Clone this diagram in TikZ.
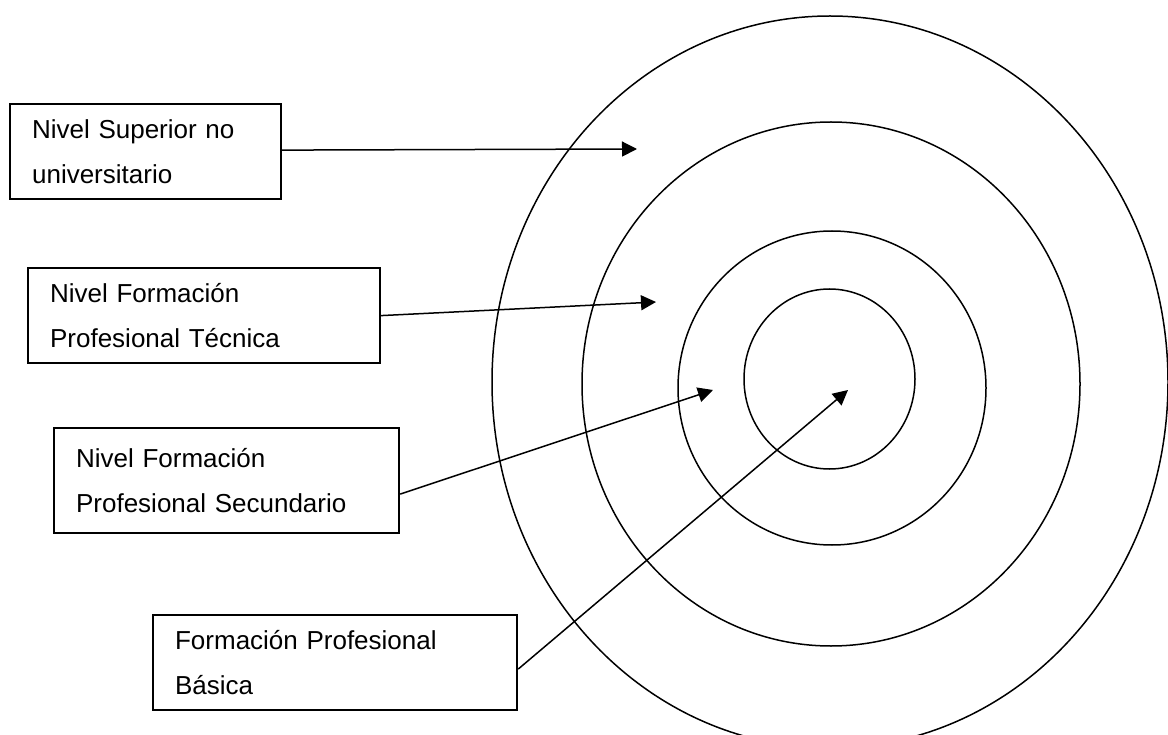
\documentclass[tikz,border=0pt]{standalone}
\usepackage{fontspec}
\setmainfont{Liberation Sans}
\usetikzlibrary{arrows.meta}
\begin{document}
\begin{tikzpicture}[x=1pt,y=-1pt,
  ring/.style={line width=1.5pt},
  levelbox/.style={draw, line width=2.2pt, anchor=north west, align=left,
    inner xsep=22pt, inner ysep=0pt, font=\fontsize{26}{45}\selectfont},
  arr/.style={line width=1.5pt, -{Triangle[length=15pt,width=15pt]}}]
\useasboundingbox (0,0) rectangle (1168,735);
\begin{scope}
\clip (0,0) rectangle (1168,735);
\draw[ring] (830,382) ellipse [x radius=338pt, y radius=366pt];
\end{scope}
\draw[ring] (831,384) ellipse [x radius=249pt, y radius=262pt];
\draw[ring] (832,388) ellipse [x radius=154pt, y radius=157pt];
\draw[ring] (829.5,379) ellipse [x radius=85.5pt, y radius=90pt];

\node[levelbox, minimum width=271pt, minimum height=95pt, text width=227pt] (b1) at (9,103) {Nivel Superior no\\universitario};
\node[levelbox, minimum width=352pt, minimum height=95pt, text width=308pt] (b2) at (27,267) {Nivel Formación\\Profesional Técnica};
\node[levelbox, minimum width=345pt, minimum height=105pt, text width=301pt] (b3) at (53,427) {Nivel Formación\\Profesional Secundario};
\node[levelbox, minimum width=364pt, minimum height=95pt, text width=320pt] (b4) at (152,614) {Formación Profesional\\Básica};

\coordinate (t1) at (637,149);
\coordinate (t2) at (656,302);
\coordinate (t3) at (713,390);
\coordinate (t4) at (848,390);

\draw[arr] ([yshift=1.5pt]b1.east) -- (t1);
\draw[arr] (b2.east) -- (t2);
\draw[arr] ([yshift=-13.5pt]b3.east) -- (t3);
\draw[arr] ([yshift=-6.5pt]b4.east) -- (t4);
\end{tikzpicture}
\end{document}
